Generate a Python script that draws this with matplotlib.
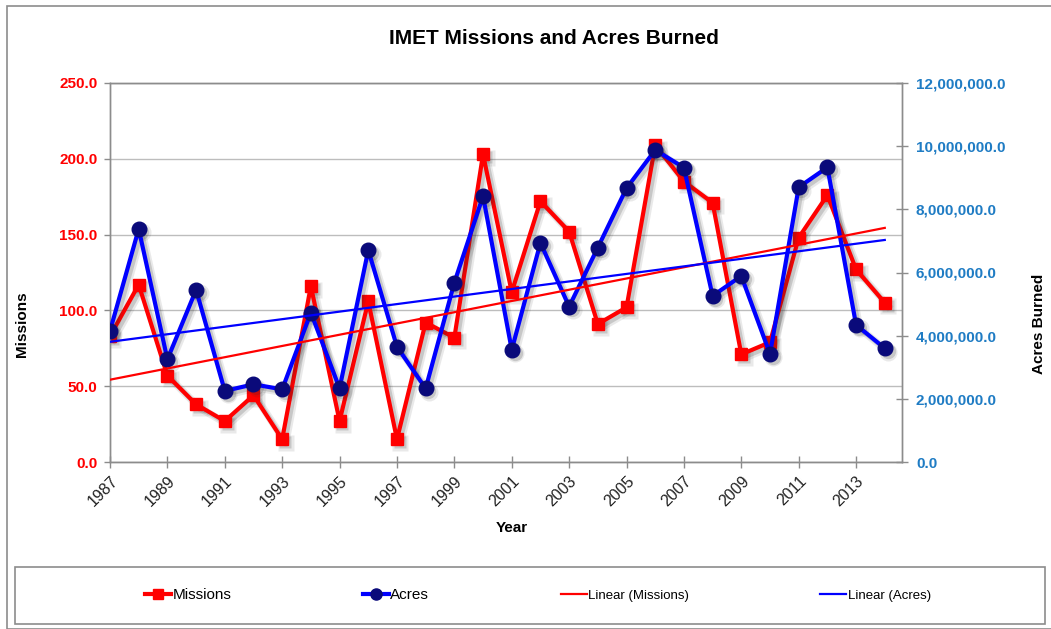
import numpy as np
import matplotlib
matplotlib.use('Agg')
import matplotlib.pyplot as plt
import matplotlib.transforms as mtransforms
from matplotlib.patches import Rectangle
from matplotlib.ticker import FuncFormatter

plt.rcParams['font.family'] = ['Liberation Sans', 'DejaVu Sans']

years = list(range(1987, 2015))
missions = [83, 117, 57, 38, 27, 44, 15, 116, 27, 106, 15, 92, 82, 203,
            112, 172, 152, 91, 102, 209, 185, 171, 71, 79, 148, 176, 127, 105]
acres = [4150000, 7380000, 3250000, 5450000, 2250000, 2460000, 2300000,
         4730000, 2330000, 6710000, 3650000, 2330000, 5680000, 8420000,
         3550000, 6940000, 4920000, 6790000, 8670000, 9880000, 9320000,
         5260000, 5890000, 3420000, 8700000, 9330000, 4340000, 3600000]
year_ticks = list(range(1987, 2015, 2))

RED = '#ff0000'
BLUE = '#0000ff'
NAVY = '#0a0a7a'
TICKBLUE = '#1f7cc4'
GRAY = '#8c8c8c'

W, H = 1051, 629
fig = plt.figure(figsize=(W / 100, H / 100), dpi=100)
ax = fig.add_axes([110 / W, 1 - 462 / H, (902 - 110) / W, (462 - 83) / H])
ax2 = ax.twinx()


def shadow(a, x, y, marker, ms):
    # soft drop shadow, drawn as a few offset gray copies
    for off, lw, al in [(2.5, 5.5, 0.10), (2.0, 3.5, 0.18)]:
        tr = mtransforms.offset_copy(a.transData, fig=fig, x=off, y=-off, units='points')
        a.plot(x, y, color='#303030', lw=lw, alpha=al, marker=marker,
               ms=ms + lw - 3, mec='none', transform=tr, zorder=2)


shadow(ax, years, missions, 's', 8.5)
l1, = ax.plot(years, missions, color=RED, lw=3, marker='s', ms=8.5,
              mfc=RED, mec=RED, label='Missions', zorder=3)
shadow(ax2, years, acres, 'o', 10.5)
l2, = ax2.plot(years, acres, color=BLUE, lw=3, marker='o', ms=10.5,
               mfc=NAVY, mec=NAVY, label='Acres', zorder=3)

# linear trendlines (least squares, like Excel)
yr = np.array(years, dtype=float)
pm = np.polyfit(yr, missions, 1)
pa = np.polyfit(yr, acres, 1)
ends = np.array([years[0], years[-1]], dtype=float)
l3, = ax2.plot(ends, np.polyval(pm, ends), color=RED, lw=1.6,
               transform=ax.transData, label='Linear (Missions)', zorder=4)
l4, = ax2.plot(ends, np.polyval(pa, ends), color=BLUE, lw=1.6,
               label='Linear (Acres)', zorder=4)

ax.set_xlim(1987, 2014.6)
ax.set_ylim(0, 250)
ax2.set_ylim(0, 12000000)
ax.set_yticks([0, 50, 100, 150, 200, 250])
ax2.set_yticks(range(0, 12000001, 2000000))
ax.set_xticks(year_ticks)
ax.set_xticklabels([str(y) for y in year_ticks], rotation=45, ha='right',
                   va='top', rotation_mode='anchor', fontsize=11.5, color='#222222')

ax.yaxis.set_major_formatter(FuncFormatter(lambda v, p: f'{v:,.1f}'))
ax2.yaxis.set_major_formatter(FuncFormatter(lambda v, p: f'{v:,.1f}'))
for lab in ax.get_yticklabels():
    lab.set_fontweight('bold')
for lab in ax2.get_yticklabels():
    lab.set_fontweight('bold')

ax.tick_params(axis='y', direction='out', length=4, width=1, color=GRAY,
               labelcolor=RED, labelsize=11, pad=5)
ax.tick_params(axis='x', direction='inout', length=8, width=1, color=GRAY, pad=4)
ax2.tick_params(axis='y', direction='inout', length=8, width=1, color=GRAY,
                labelcolor=TICKBLUE, labelsize=11, pad=6)

ax.grid(axis='y', color='#bdbdbd', lw=1)
ax.set_axisbelow(True)
for a in (ax, ax2):
    for s in a.spines.values():
        s.set_color(GRAY)
        s.set_linewidth(1)

fig.text(554 / W, 1 - 38 / H, 'IMET Missions and Acres Burned', ha='center',
         va='center', fontsize=15, fontweight='bold')
fig.text(512 / W, 1 - 528 / H, 'Year', ha='center', va='center',
         fontsize=11, fontweight='bold')
fig.text(22 / W, 1 - 324 / H, 'Missions', ha='center', va='center',
         rotation=90, fontsize=11, fontweight='bold')
fig.text(1039 / W, 1 - 324 / H, 'Acres Burned', ha='center', va='center',
         rotation=90, fontsize=11, fontweight='bold')

# chart area border
fig.patches.append(Rectangle((7 / W, 0), 1.2, 1 - 6 / H, transform=fig.transFigure,
                             fill=False, ec=GRAY, lw=1.2))

# legend box, entries placed like the original
fig.patches.append(Rectangle((15 / W, 1 - 624 / H), (1045 - 15) / W, 57 / H,
                             transform=fig.transFigure, fill=False, ec=GRAY, lw=1.2))
leg = fig.legend(handles=[l1, l2, l3, l4], loc='center', ncol=4,
                 bbox_to_anchor=(538 / W, 1 - 595 / H), frameon=False,
                 fontsize=11, handlelength=1.7, handletextpad=0.1,
                 columnspacing=8.6, borderaxespad=0)
leg.legend_handles[0].set_markersize(7)
leg.legend_handles[1].set_markersize(8)
for t in leg.get_texts()[2:]:
    t.set_fontsize(9.5)

fig.savefig('out.png', dpi=100)
